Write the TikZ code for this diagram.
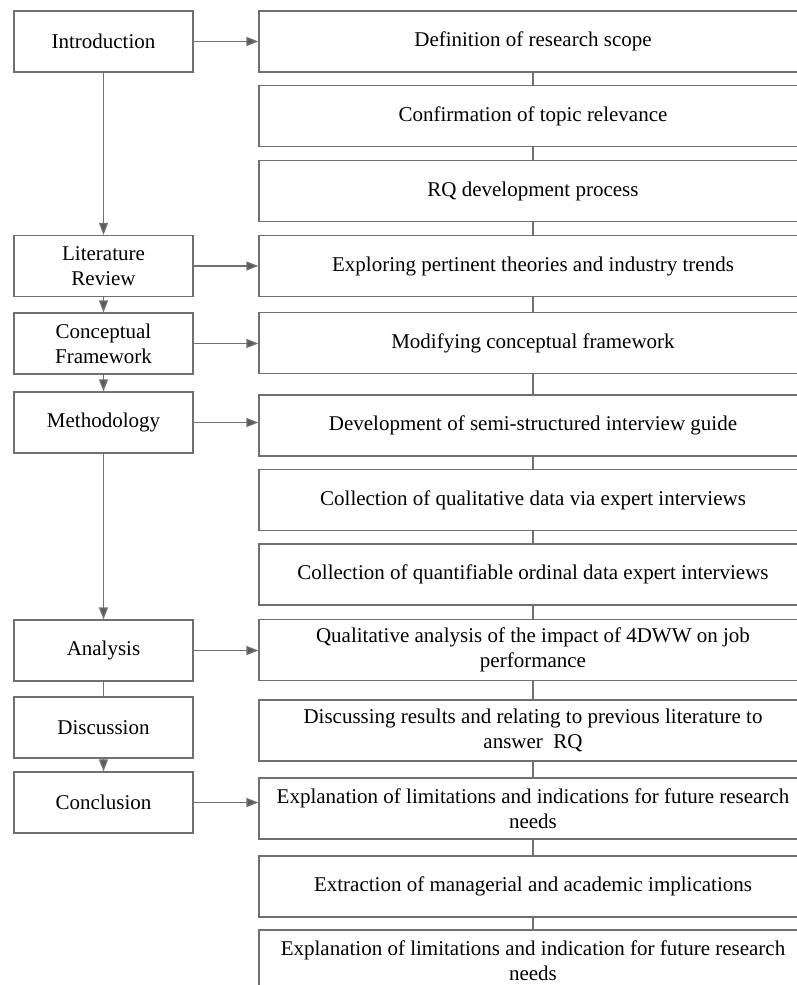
\documentclass[tikz,border=0pt]{standalone}
\usepackage{fontspec}
\setmainfont{Liberation Serif}
\usetikzlibrary{arrows.meta}

\definecolor{linegray}{RGB}{112,112,112}
\definecolor{tipgray}{RGB}{90,90,90}

\begin{document}
\begin{tikzpicture}[x=1pt, y=-1pt,
  stage/.style={draw=linegray, line width=1.3pt, minimum width=179pt, minimum height=61pt,
    align=center, inner sep=2pt, font=\fontsize{21}{25}\selectfont},
  task/.style={draw=linegray, line width=1.3pt, minimum width=548pt, minimum height=61pt,
    text width=518pt, align=flush center, inner sep=2pt, font=\fontsize{21}{25}\selectfont},
  flow/.style={draw=linegray, line width=1.3pt, -{Triangle[length=12pt, width=9pt, fill=tipgray]}},
  link/.style={draw=linegray, line width=1.3pt}]
  \useasboundingbox (0,0) rectangle (797,985);
  \clip (0,0) rectangle (797,985);

  % stages of the thesis
  \node[stage] (intro) at (103.5,41.5) {Introduction};
  \node[stage] (litrev) at (103.5,266) {Literature\\Review};
  \node[stage] (concept) at (103.5,343.5) {Conceptual\\Framework};
  \node[stage] (method) at (103.5,422.5) {Methodology};
  \node[stage] (analysis) at (103.5,650.5) {Analysis};
  \node[stage] (discuss) at (103.5,727.5) {Discussion};
  \node[stage] (concl) at (103.5,802.5) {Conclusion};

  % tasks on the right
  \node[task] (scope) at (533,41.5) {Definition of research scope};
  \node[task] (relev) at (533,116) {Confirmation of topic relevance};
  \node[task] (rqdev) at (533,191) {RQ development process};
  \node[task] (explore) at (533,266) {Exploring pertinent theories and industry trends};
  \node[task] (modify) at (533,343) {Modifying conceptual framework};
  \node[task] (guide) at (533,425.5) {Development of semi-structured interview guide};
  \node[task] (qualdata) at (533,500) {Collection of qualitative data via expert interviews};
  \node[task] (orddata) at (533,574.5) {Collection of quantifiable ordinal data expert interviews};
  \node[task] (qualana) at (533,650) {Qualitative analysis of the impact of 4DWW on job performance};
  \node[task] (results) at (533,730.5) {Discussing results and relating to previous literature to answer\ \ RQ};
  \node[task] (limits) at (533,808.5) {Explanation of limitations and indications for future research needs};
  \node[task] (implic) at (533,886.5) {Extraction of managerial and academic implications};
  \node[task] (limits2) at (533,960.5) {Explanation of limitations and indication for future research needs};

  % main flow down the left
  \draw[flow] (intro) -- (litrev);
  \draw[flow] (litrev) -- (concept);
  \draw[flow] (concept) -- (method);
  \draw[flow] (method) -- (analysis);
  \draw[link] (analysis) -- (discuss);
  \draw[flow] (discuss) -- (concl);

  % stage to task
  \draw[flow] (intro.east) -- (intro.east -| scope.west);
  \draw[flow] (litrev.east) -- (litrev.east -| explore.west);
  \draw[flow] (concept.east) -- (concept.east -| modify.west);
  \draw[flow] (method.east) -- (method.east -| guide.west);
  \draw[flow] (analysis.east) -- (analysis.east -| qualana.west);
  \draw[flow] (concl.east) -- (concl.east -| limits.west);

  % chain of tasks
  \draw[link] (scope) -- (relev) (relev) -- (rqdev) (rqdev) -- (explore)
    (explore) -- (modify) (modify) -- (guide) (guide) -- (qualdata)
    (qualdata) -- (orddata) (orddata) -- (qualana) (qualana) -- (results)
    (results) -- (limits) (limits) -- (implic) (implic) -- (limits2);
\end{tikzpicture}
\end{document}
